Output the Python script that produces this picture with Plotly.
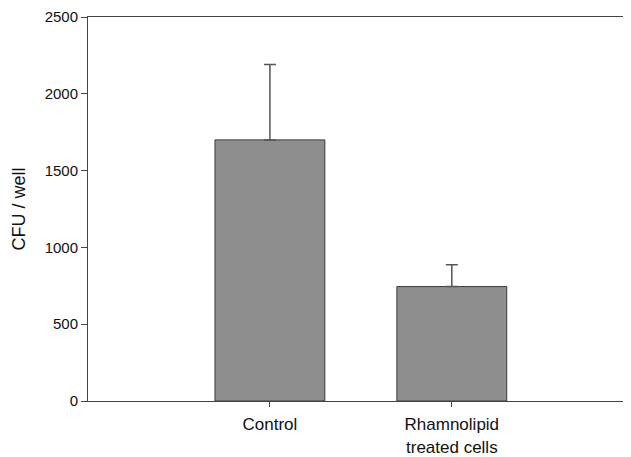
import plotly.graph_objects as go

categories = ["Control", "Rhamnolipid<br>treated cells"]
values = [1700, 745]
errors_plus = [490, 142]
y_ticks = [0, 500, 1000, 1500, 2000, 2500]

fig = go.Figure()
fig.add_trace(go.Bar(
    x=[0, 1],
    y=values,
    width=0.604,
    marker=dict(color="#8e8e8e", line=dict(color="#3a3a3a", width=1)),
    error_y=dict(type="data", array=errors_plus, symmetric=False,
                 arrayminus=[0, 0], color="#555555", thickness=1.5, width=6),
))

fig.update_layout(
    width=623, height=457,
    margin=dict(l=80, r=0, t=9, b=64),
    paper_bgcolor="white", plot_bgcolor="white",
    showlegend=False,
    font=dict(family="Liberation Sans, Arial, sans-serif", size=15, color="#111111"),
    xaxis=dict(
        range=[-1, 1.985], tickmode="array", tickvals=[0, 1], ticktext=categories,
        showgrid=False, zeroline=False, showline=True, linecolor="#444444", linewidth=1,
        mirror=True, ticks="outside", ticklen=5, tickcolor="#444444",
        tickfont=dict(size=17), ticklabelstandoff=3, automargin=False,
    ),
    yaxis=dict(
        range=[0, 2500], tickvals=y_ticks, showgrid=False, zeroline=False,
        showline=True, linecolor="#444444", linewidth=1,
        ticks="outside", ticklen=6, tickcolor="#444444",
        title=dict(text="CFU / well", font=dict(size=18), standoff=14),
        tickfont=dict(size=15), automargin=False,
    ),
)

fig.write_html("out.html")
